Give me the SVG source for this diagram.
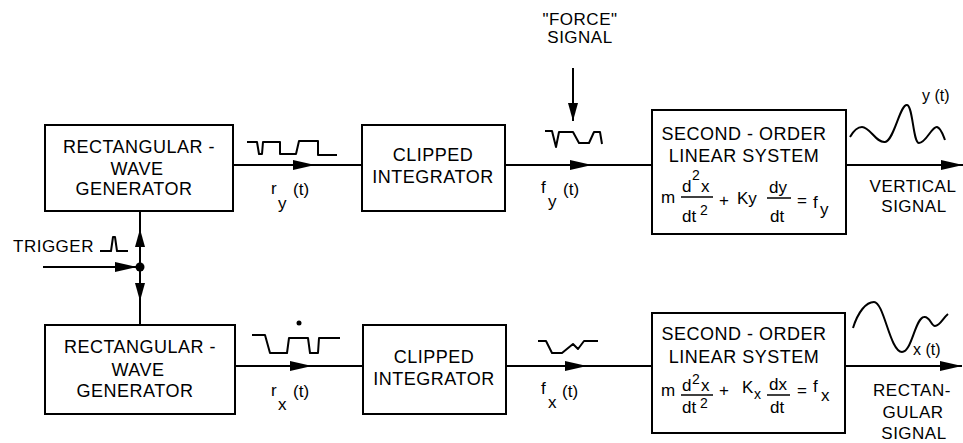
<svg xmlns="http://www.w3.org/2000/svg" width="963" height="443" viewBox="0 0 963 443">
<style>
text{font-family:"Liberation Sans","DejaVu Sans",sans-serif;fill:#000}
.lb{font-size:18px;letter-spacing:0.5px;text-anchor:middle}
.eq{font-size:17px}
.sm{font-size:14px}
.box{fill:#fff;stroke:#000;stroke-width:2}
.ln{fill:none;stroke:#000;stroke-width:2}
.wv{fill:none;stroke:#000;stroke-width:2;stroke-linejoin:round}
.bar{stroke:#000;stroke-width:1.5}
.out{font-size:17px;letter-spacing:0.5px;text-anchor:middle}
</style>
<defs>
<marker id="ah" viewBox="0 0 22 10" refX="22" refY="5" markerWidth="22" markerHeight="10" markerUnits="userSpaceOnUse" orient="auto"><path d="M0,0 L22,5 L0,10 Z"/></marker>
<marker id="av" viewBox="0 0 18 10" refX="18" refY="5" markerWidth="18" markerHeight="10" markerUnits="userSpaceOnUse" orient="auto"><path d="M0,0 L18,5 L0,10 Z"/></marker>
</defs>
<rect width="963" height="443" fill="#fff"/>

<g id="connectors">
<line class="ln" x1="233" y1="165" x2="315" y2="165" marker-end="url(#ah)"/>
<line class="ln" x1="314" y1="165" x2="362" y2="165"/>
<line class="ln" x1="505" y1="165" x2="592" y2="165" marker-end="url(#ah)"/>
<line class="ln" x1="591" y1="165" x2="652" y2="165"/>
<line class="ln" x1="846" y1="165" x2="963" y2="165" marker-end="url(#ah)"/>
<line class="ln" x1="235" y1="366" x2="312" y2="366" marker-end="url(#ah)"/>
<line class="ln" x1="311" y1="366" x2="363" y2="366"/>
<line class="ln" x1="506" y1="366" x2="587" y2="366" marker-end="url(#ah)"/>
<line class="ln" x1="586" y1="366" x2="652" y2="366"/>
<line class="ln" x1="845" y1="366" x2="962" y2="366" marker-end="url(#ah)"/>
<line class="ln" x1="140" y1="211" x2="140" y2="232"/>
<line class="ln" x1="140" y1="267" x2="140" y2="229" marker-end="url(#av)"/>
<line class="ln" x1="140" y1="267" x2="140" y2="301" marker-end="url(#av)"/>
<line class="ln" x1="140" y1="299" x2="140" y2="325"/>
<line class="ln" x1="43" y1="267" x2="137" y2="267" marker-end="url(#ah)"/>
<circle cx="140" cy="267" r="4.5"/>
<line class="ln" x1="573" y1="68" x2="573" y2="121" stroke-width="1.5" marker-end="url(#av)"/>
</g>

<g id="rwg-top">
<rect class="box" x="45" y="125" width="188" height="86"/>
<text class="lb" x="139" y="153">RECTANGULAR -</text>
<text class="lb" x="137" y="175">WAVE</text>
<text class="lb" x="134" y="195">GENERATOR</text>
</g>
<g id="rwg-bottom">
<rect class="box" x="45" y="325" width="190" height="89"/>
<text class="lb" x="140" y="353">RECTANGULAR -</text>
<text class="lb" x="138" y="376">WAVE</text>
<text class="lb" x="135" y="397">GENERATOR</text>
</g>
<g id="ci-top">
<rect class="box" x="362" y="125" width="143" height="86"/>
<text class="lb" x="433" y="161">CLIPPED</text>
<text class="lb" x="433" y="183">INTEGRATOR</text>
</g>
<g id="ci-bottom">
<rect class="box" x="363" y="325" width="143" height="89"/>
<text class="lb" x="434" y="363">CLIPPED</text>
<text class="lb" x="434" y="385">INTEGRATOR</text>
</g>
<g id="sos-top">
<rect class="box" x="652" y="110" width="194" height="124"/>
<text class="lb" x="744" y="140">SECOND - ORDER</text>
<text class="lb" x="744" y="162">LINEAR SYSTEM</text>
<text class="eq" x="661" y="203">m</text>
<text class="eq" x="682" y="192">d</text>
<text class="sm" x="692" y="180">2</text>
<text class="eq" x="701" y="192">x</text>
<line class="bar" x1="681" y1="197" x2="713" y2="197"/>
<text class="eq" x="682" y="222">dt</text>
<text class="sm" x="700" y="215">2</text>
<text class="eq" x="719" y="206">+</text>
<text class="eq" x="737" y="204">Ky</text>
<text class="eq" x="769" y="193">dy</text>
<line class="bar" x1="767" y1="198" x2="791" y2="198"/>
<text class="eq" x="770" y="222">dt</text>
<text class="eq" x="797" y="206">=</text>
<text class="eq" x="813" y="208">f</text>
<text class="eq" x="820" y="215">y</text>
</g>
<g id="sos-bottom">
<rect class="box" x="652" y="313" width="193" height="120"/>
<text class="lb" x="744" y="340">SECOND - ORDER</text>
<text class="lb" x="744" y="363">LINEAR SYSTEM</text>
<text class="eq" x="661" y="396">m</text>
<text class="eq" x="682" y="391">d</text>
<text class="sm" x="692" y="384">2</text>
<text class="eq" x="701" y="391">x</text>
<line class="bar" x1="681" y1="395" x2="713" y2="395"/>
<text class="eq" x="682" y="413">dt</text>
<text class="sm" x="700" y="408">2</text>
<text class="eq" x="719" y="396">+</text>
<text class="eq" x="742" y="393">K</text>
<text class="sm" x="754" y="399">x</text>
<text class="eq" x="769" y="390">dx</text>
<line class="bar" x1="767" y1="395" x2="790" y2="395"/>
<text class="eq" x="770" y="413">dt</text>
<text class="eq" x="797" y="396">=</text>
<text class="eq" x="813" y="392">f</text>
<text class="eq" x="821" y="401">x</text>
</g>

<g id="labels">
<text x="13" y="252" style="font-size:17px;letter-spacing:0.5px">TRIGGER</text>
<path class="wv" stroke-width="1.6" d="M100,251 H111 L113,237 L115,237 L117,251 H128"/>
<text class="out" x="580" y="25">"FORCE"</text>
<text class="out" x="580" y="43">SIGNAL</text>
<text class="out" x="913" y="192">VERTICAL</text>
<text class="out" x="914" y="212">SIGNAL</text>
<text class="out" x="912" y="396">RECTAN-</text>
<text class="out" x="913" y="418">GULAR</text>
<text class="out" x="914" y="439">SIGNAL</text>
<text class="eq" x="271" y="194">r</text>
<text class="eq" x="278" y="209">y</text>
<text class="eq" x="293" y="195">(t)</text>
<text class="eq" x="271" y="396">r</text>
<text class="eq" x="278" y="410">x</text>
<text class="eq" x="293" y="397">(t)</text>
<text class="eq" x="541" y="193">f</text>
<text class="eq" x="548" y="207">y</text>
<text class="eq" x="563" y="195">(t)</text>
<text class="eq" x="541" y="394">f</text>
<text class="eq" x="548" y="408">x</text>
<text class="eq" x="562" y="397">(t)</text>
<text x="922" y="101" style="font-size:16px">y (t)</text>
<text x="913" y="355" style="font-size:16px">x (t)</text>
</g>

<g id="signals">
<path class="wv" d="M247,142 H257 L259,154 H262 L263,142 H280 V154 H296 L299,141 H318 V155 H337"/>
<path class="wv" d="M252,335 H265 L270,353 H287 L289,338 H308 L310,353 H318 L319,338 H340"/>
<circle cx="299" cy="323" r="2.5"/>
<path class="wv" d="M545,131 H552 L556,147 L559,132 H573 L579,143 H589 L594,132 H600 L602,144"/>
<path class="wv" d="M538,341 H546 L552,353 H562 L573,344 L578,349 L584,341 H598"/>
<path class="wv" d="M850,137 C854,130 858,127 862,127 C870,127 876,143 885,142 C894,141 900,104 907,105 C913,106 913,143 919,143 C926,143 932,126 937,127 C941,128 943,135 945,140"/>
<path class="wv" d="M853,328 C858,312 866,302 874,302 C884,302 890,352 902,352 C912,352 915,318 924,317 C930,316 931,326 935,326 C940,326 943,318 948,314"/>
</g>
</svg>
